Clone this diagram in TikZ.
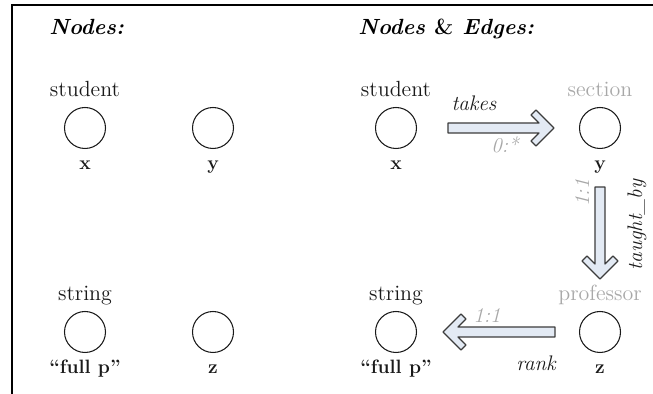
\documentclass[tikz,border=0pt]{standalone}
\usepackage{tikz}
\usetikzlibrary{positioning,calc}
\definecolor{ink}{HTML}{1A1A1A}
\definecolor{faint}{HTML}{A8A8A8}
\definecolor{arrowfill}{HTML}{E3EAF4}
\definecolor{arrowline}{HTML}{3C3C3C}
\tikzset{
  var/.style={circle, draw=ink, line width=0.6pt, minimum size=0.82cm, inner sep=0pt},
  typelbl/.style={inner sep=0pt, text depth=0pt, font=\fontsize{12.5}{14}\selectfont, text=ink},
  ghostlbl/.style={typelbl, text=faint},
  vallbl/.style={inner sep=0pt, text height=7pt, text depth=0pt, font=\fontsize{11}{13}\selectfont\bfseries, text=ink},
  edgelbl/.style={inner sep=0pt, font=\fontsize{12}{14}\selectfont\itshape, text=ink},
  cardlbl/.style={edgelbl, text=faint},
  header/.style={inner sep=0pt, anchor=base west, font=\fontsize{12.5}{14}\selectfont\bfseries\itshape},
  fatbody/.style={draw=arrowline, line width=0.7pt, fill=arrowfill, line join=round},
}
% hollow block arrow from #1 to #2, #3/#4 = gap at start/end
\newcommand{\fatarrow}[4]{%
  \coordinate (fa-s) at ($(#1)!#3!(#2)$);
  \coordinate (fa-e) at ($(#2)!#4!(#1)$);
  \draw[fatbody] (fa-e)
    -- ($(fa-e)!0.36cm!(fa-s)!0.36cm!-90:(fa-s)$)
    -- ($(fa-e)!0.46cm!(fa-s)!0.26cm!-90:(fa-s)$)
    -- ($(fa-e)!0.30cm!(fa-s)!0.10cm!-90:(fa-s)$)
    -- ($(fa-s)!0.10cm!90:(fa-e)$)
    -- ($(fa-s)!0.10cm!-90:(fa-e)$)
    -- ($(fa-e)!0.30cm!(fa-s)!0.10cm!90:(fa-s)$)
    -- ($(fa-e)!0.46cm!(fa-s)!0.26cm!90:(fa-s)$)
    -- ($(fa-e)!0.36cm!(fa-s)!0.36cm!90:(fa-s)$)
    -- cycle;
}

\begin{document}
\begin{tikzpicture}[x=0.02cm, y=-0.02cm]
  \useasboundingbox (0,0) rectangle (653,394);
  \draw[line width=1.4pt] (653,5) -- (12,5) -- (12,394);
  \node[header] (hnodes) at (49,35) {Nodes:};
  \node[header] (hedges) at (358,35) {Nodes {\upshape\&} Edges:};
  % nodes only
  \node[var] (lx) at (85,128) {};
  \node[var] (ly) at (213,128) {};
  \node[var] (lp) at (85,332) {};
  \node[var] (lz) at (213,332) {};
  \node[typelbl, above=6pt of lx] (lxt) {student};
  \node[typelbl, above=6pt of lp] (lpt) {string};
  \node[vallbl, below=4.6pt of lx] (lxv) {x};
  \node[vallbl, below=4.6pt of ly] (lyv) {y};
  \node[vallbl, below=4.6pt of lp] (lpv) {``full p''};
  \node[vallbl, below=4.6pt of lz] (lzv) {z};
  % nodes and edges
  \node[var] (rx) at (396,128) {};
  \node[var] (ry) at (600,128) {};
  \node[var] (rp) at (396,332) {};
  \node[var] (rz) at (600,332) {};
  \node[typelbl, above=6pt of rx] (rxt) {student};
  \node[ghostlbl, above=6pt of ry] (ryt) {section};
  \node[typelbl, above=6pt of rp] (rpt) {string};
  \node[ghostlbl, above=6pt of rz] (rzt) {professor};
  \node[vallbl, below=4.6pt of rx] (rxv) {x};
  \node[vallbl, below=4.6pt of ry] (ryv) {y};
  \node[vallbl, below=4.6pt of rp] (rpv) {``full p''};
  \node[vallbl, below=4.6pt of rz] (rzv) {z};
  \fatarrow{rx}{ry}{1.04cm}{0.92cm}
  \fatarrow{ry}{rz}{1.18cm}{1.06cm}
  \fatarrow{rz}{rp}{0.90cm}{0.94cm}
  \node[edgelbl] (takes) at (474,103) {takes};
  \node[cardlbl] (takesc) at (505,145) {0:*};
  \node[cardlbl, rotate=90] (taughtc) at (582,193) {1:1};
  \node[edgelbl, rotate=90] (taught) at (637,225) {taught\_by};
  \node[cardlbl] (rankc) at (487,315) {1:1};
  \node[edgelbl] (rank) at (536,363) {rank};
\end{tikzpicture}
\end{document}
